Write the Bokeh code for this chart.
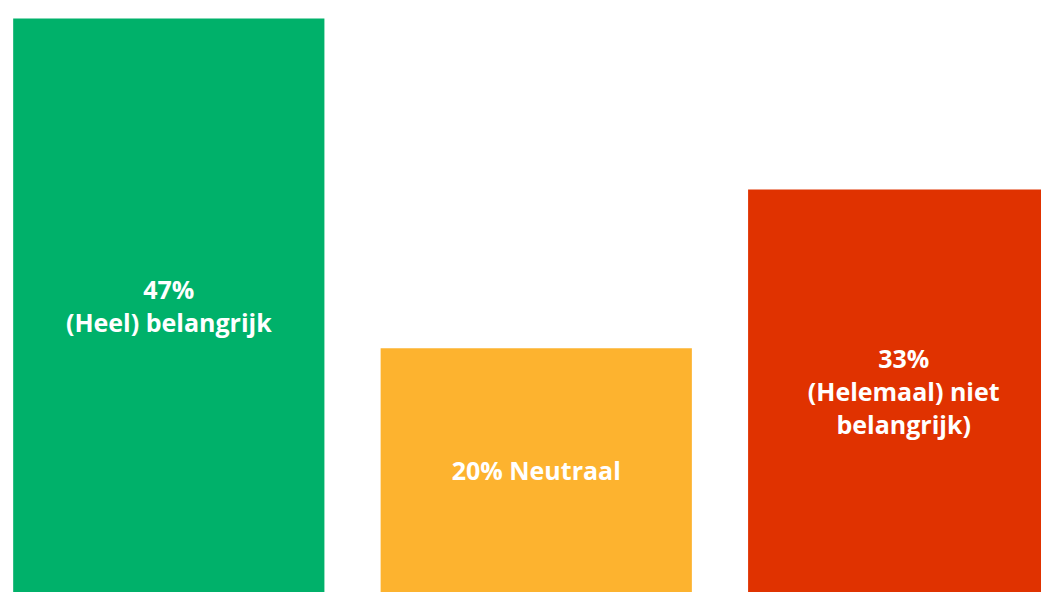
from bokeh.plotting import figure
from bokeh.models import ColumnDataSource, Range1d
from bokeh.core.properties import value
from bokeh.embed import file_html
from bokeh.resources import INLINE

categories = ["(Heel) belangrijk", "Neutraal", "(Helemaal) niet belangrijk"]
values = [47, 20, 33]
labels = ["47%\n(Heel) belangrijk", "20% Neutraal", "33%\n(Helemaal) niet\nbelangrijk)"]
colors = ["#00B16A", "#FDB32F", "#E03200"]

x = list(range(len(categories)))
src = ColumnDataSource(dict(
    x=x, top=values, mid=[v / 2 for v in values], label=labels, color=colors, cat=categories,
))

p = figure(width=1041, height=592, output_backend="svg", toolbar_location=None,
           x_range=Range1d(-0.458, 2.375), y_range=Range1d(0, 48.48),
           min_border=0, min_border_left=0, min_border_right=0,
           min_border_top=0, min_border_bottom=0)
p.vbar(x="x", top="top", bottom=0, width=0.847, fill_color="color", line_color=None, source=src)
p.text(x="x", y="mid", text="label", source=src, text_color="white",
       text_font=value("Open Sans"), text_font_style="bold", text_font_size="25px",
       text_align="center", text_baseline="middle", text_line_height=0.96)

p.axis.visible = False
p.grid.visible = False
p.outline_line_color = None
p.background_fill_color = "white"
p.border_fill_color = "white"

open("out.html", "w").write(file_html(p, INLINE))
